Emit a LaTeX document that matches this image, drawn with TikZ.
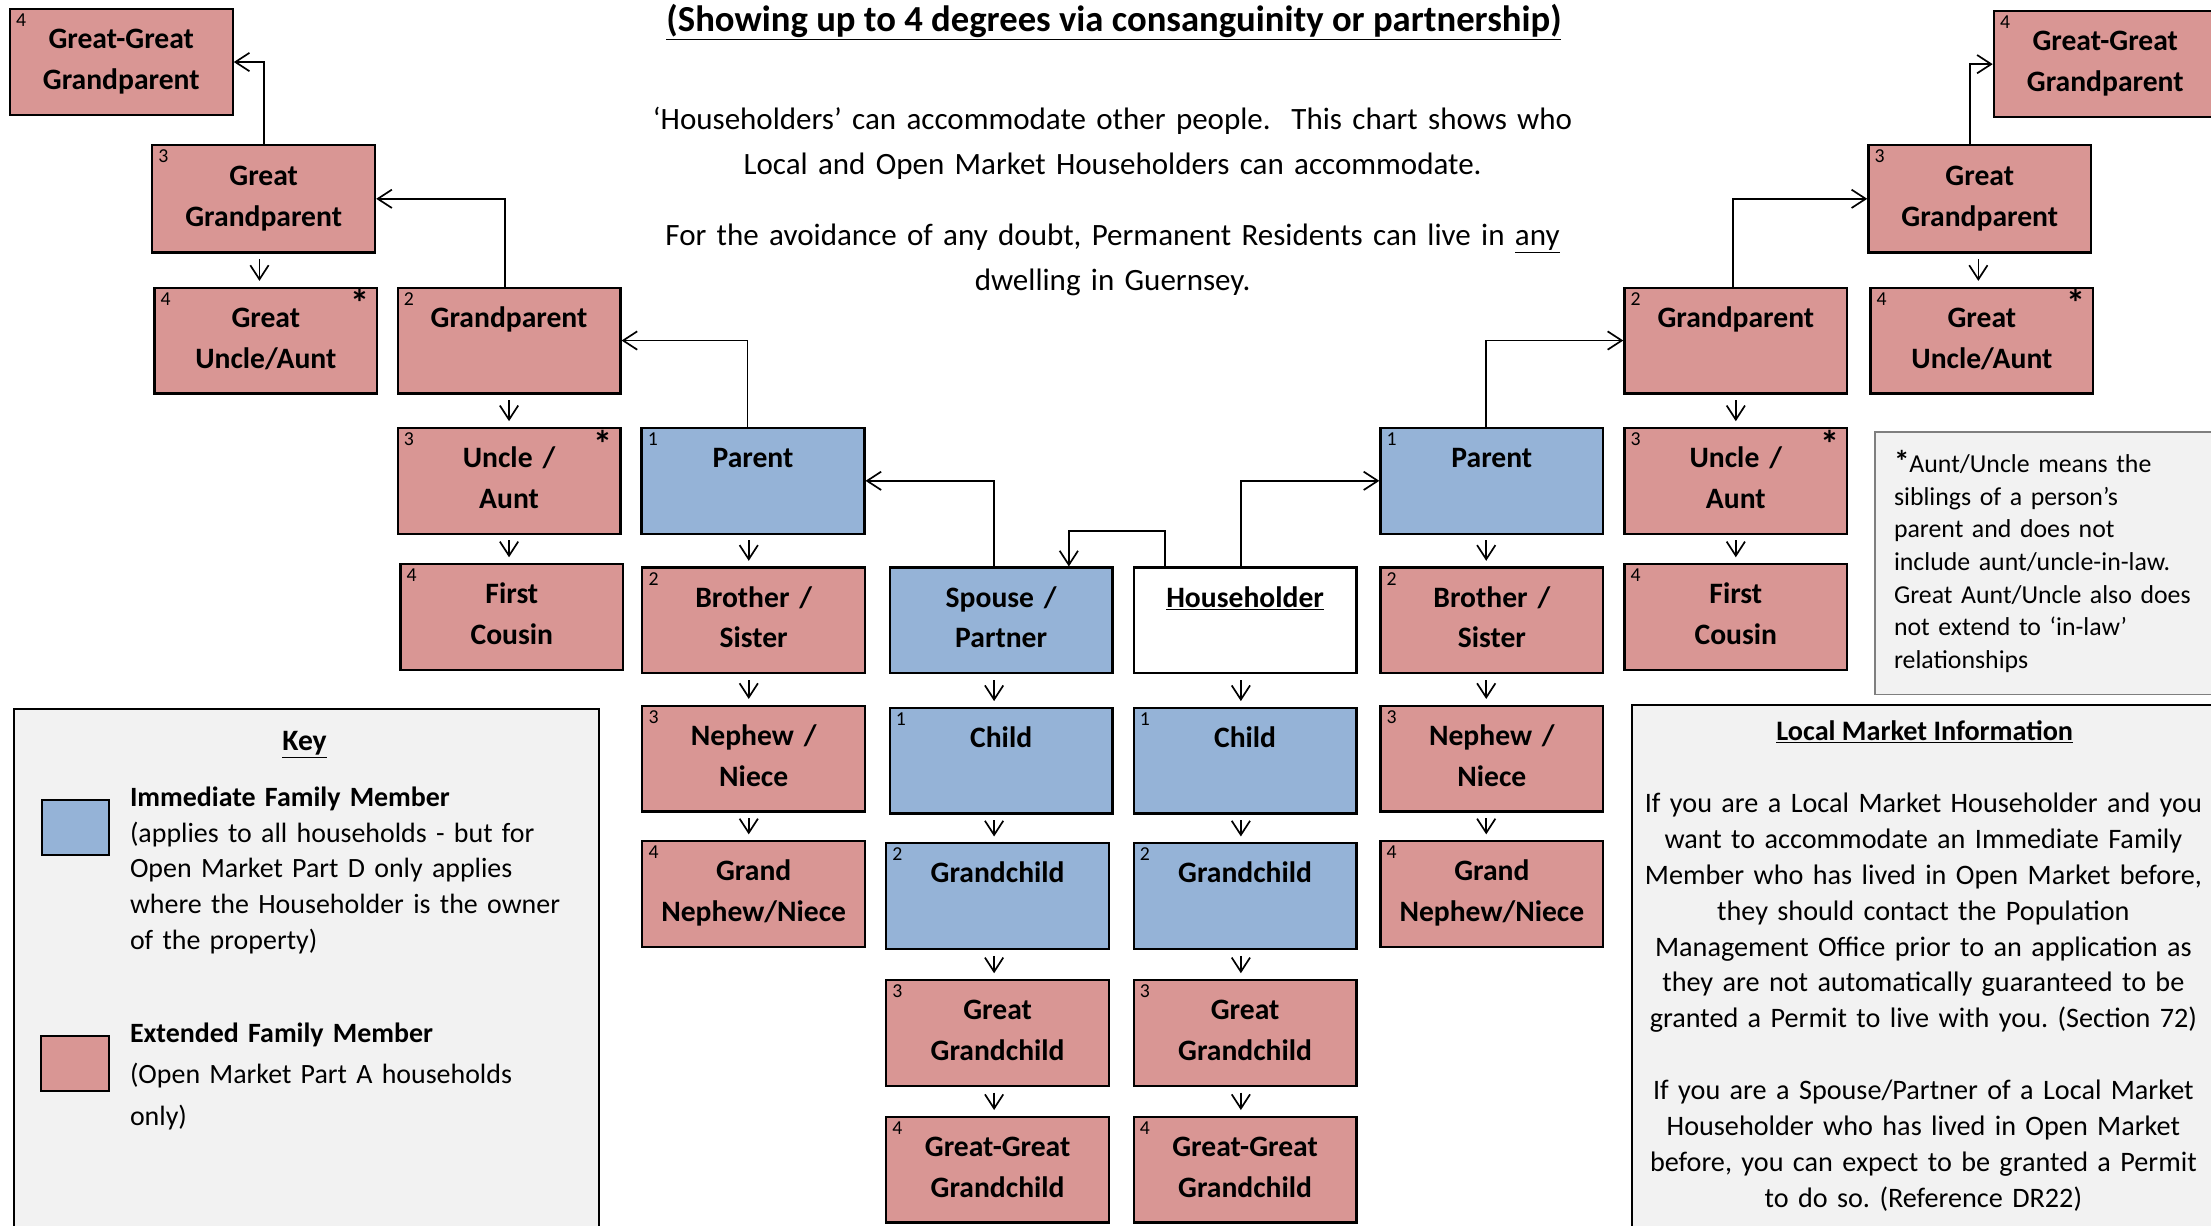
\documentclass[tikz,border=0pt]{standalone}
\usepackage{fontspec}
\setmainfont{Carlito}
\usetikzlibrary{arrows.meta}
\frenchspacing

\definecolor{extpink}{HTML}{D99694}
\definecolor{immblue}{HTML}{95B3D7}
\definecolor{panelgrey}{HTML}{F2F2F2}
\definecolor{notegrey}{HTML}{7F7F7F}

\tikzset{
  member/.style={rectangle, draw, line width=1.6pt, minimum width=158pt, minimum height=75pt,
    text width=154pt, align=center, inner sep=0pt, text height=15pt, text depth=34pt,
    font=\bfseries\fontsize{21}{29}\selectfont},
  ext/.style={member, fill=extpink},
  imm/.style={member, fill=immblue},
  deg/.style={anchor=north west, inner xsep=5pt, inner ysep=4pt, font=\fontsize{14}{14}\selectfont},
  star/.style={anchor=north east, inner xsep=6pt, inner ysep=2pt, font=\bfseries\fontsize{27}{27}\selectfont},
  link/.style={-{Straight Barb[length=10pt,width=13pt]}, line width=1.2pt},
  down/.style={link, shorten <=4pt, shorten >=4pt}
}

\begin{document}
\begin{tikzpicture}[x=1pt,y=-1pt]
  \useasboundingbox (0,0) rectangle (1568,869);

  % Heading
  \node[anchor=base, font=\bfseries\fontsize{26}{30}\selectfont] (title) at (790,22)
    {\underline{(Showing up to 4 degrees via consanguinity or partnership)}};
  \node[anchor=base, text width=760pt, align=center, font=\fontsize{22}{32}\selectfont] (intro) at (789,92)
    {‘Householders’ can accommodate other people.\ \ This chart shows who\\Local and Open Market Householders can accommodate.};
  \node[anchor=base, text width=760pt, align=center, font=\fontsize{22}{32}\selectfont] (avoid) at (789,174)
    {For the avoidance of any doubt, Permanent Residents can live in \underline{any}\\dwelling in Guernsey.};

  % Left side
  \node[ext, label={[deg]north west:4}] (ggpL) at (86,44) {Great-Great\\Grandparent};
  \node[ext, minimum height=76pt, label={[deg]north west:3}] (ggL) at (187,141) {Great\\Grandparent};
  \node[ext, label={[deg]north west:4}, label={[star]north east:*}] (guL) at (188.5,241.5) {Great\\Uncle/Aunt};
  \node[ext, label={[deg]north west:2}] (gpL) at (361,241.5) {Grandparent};
  \node[ext, label={[deg]north west:3}, label={[star]north east:*}] (uaL) at (361,341) {Uncle /\\Aunt};
  \node[ext, label={[deg]north west:4}] (fcL) at (363,437.5) {First\\Cousin};
  \node[imm, label={[deg]north west:1}] (parL) at (534,341) {Parent};
  \node[ext, label={[deg]north west:2}] (bsL) at (534.5,440) {Brother /\\Sister};
  \node[ext, label={[deg]north west:3}] (nnL) at (534.5,538) {Nephew /\\Niece};
  \node[ext, label={[deg]north west:4}] (gnL) at (534.5,634) {Grand\\Nephew/Niece};

  % Centre
  \node[imm] (sp) at (710,440) {Spouse /\\Partner};
  \node[member, fill=white] (hh) at (883,440) {\underline{Householder}};
  \node[imm, label={[deg]north west:1}] (chL) at (710,539.5) {Child};
  \node[imm, label={[deg]north west:2}] (gcL) at (707.5,635.5) {Grandchild};
  \node[ext, label={[deg]north west:3}] (ggcL) at (707.5,732.5) {Great\\Grandchild};
  \node[ext, label={[deg]north west:4}] (gggcL) at (707.5,829.5) {Great-Great\\Grandchild};
  \node[imm, label={[deg]north west:1}] (chR) at (883,539.5) {Child};
  \node[imm, label={[deg]north west:2}] (gcR) at (883,635.5) {Grandchild};
  \node[ext, label={[deg]north west:3}] (ggcR) at (883,732.5) {Great\\Grandchild};
  \node[ext, label={[deg]north west:4}] (gggcR) at (883,829.5) {Great-Great\\Grandchild};

  % Right side
  \node[imm, label={[deg]north west:1}] (parR) at (1058,341) {Parent};
  \node[ext, label={[deg]north west:2}] (bsR) at (1058,440) {Brother /\\Sister};
  \node[ext, label={[deg]north west:3}] (nnR) at (1058,538) {Nephew /\\Niece};
  \node[ext, label={[deg]north west:4}] (gnR) at (1058,634) {Grand\\Nephew/Niece};
  \node[ext, label={[deg]north west:2}] (gpR) at (1231,241.5) {Grandparent};
  \node[ext, label={[deg]north west:3}, label={[star]north east:*}] (uaR) at (1231,341) {Uncle /\\Aunt};
  \node[ext, label={[deg]north west:4}] (fcR) at (1231,437.5) {First\\Cousin};
  \node[ext, minimum height=76pt, label={[deg]north west:3}] (ggR) at (1404,141) {Great\\Grandparent};
  \node[ext, label={[deg]north west:4}, label={[star]north east:*}] (guR) at (1405.5,241.5) {Great\\Uncle/Aunt};
  \node[ext, label={[deg]north west:4}] (ggpR) at (1493,45.5) {Great-Great\\Grandparent};

  % Connectors, left
  \draw[link] (ggL.north) |- (ggpL.east);
  \draw[down] ([xshift=-3pt]ggL.south) -- ([xshift=-4.5pt]guL.north);
  \draw[link] ([xshift=-3pt]gpL.north) |- (ggL.east);
  \draw[down] (gpL) -- (uaL);
  \draw[down] (uaL.south) -- ([xshift=-2pt]fcL.north);
  \draw[link] ([xshift=-4pt]parL.north) |- (gpL.east);
  \draw[down] ([xshift=-3pt]parL.south) -- ([xshift=-3.5pt]bsL.north);
  \draw[down] ([xshift=-3.5pt]bsL.south) -- ([xshift=-3.5pt]nnL.north);
  \draw[down] ([xshift=-3.5pt]nnL.south) -- ([xshift=-3.5pt]gnL.north);

  % Connectors, centre
  \draw[link] ([xshift=-5pt]sp.north) |- (parL.east);
  \draw[link] ([xshift=-57pt]hh.north) -- ++(0,-25) -| ([xshift=48pt]sp.north);
  \draw[link] ([xshift=-3pt]hh.north) |- (parR.west);
  \draw[down] ([xshift=-5pt]sp.south) -- ([xshift=-5pt]chL.north);
  \draw[down] ([xshift=-5pt]chL.south) -- ([xshift=-2.5pt]gcL.north);
  \draw[down] ([xshift=-2.5pt]gcL.south) -- ([xshift=-2.5pt]ggcL.north);
  \draw[down] ([xshift=-2.5pt]ggcL.south) -- ([xshift=-2.5pt]gggcL.north);
  \draw[down] ([xshift=-3pt]hh.south) -- ([xshift=-3pt]chR.north);
  \draw[down] ([xshift=-3pt]chR.south) -- ([xshift=-3pt]gcR.north);
  \draw[down] ([xshift=-3pt]gcR.south) -- ([xshift=-3pt]ggcR.north);
  \draw[down] ([xshift=-3pt]ggcR.south) -- ([xshift=-3pt]gggcR.north);

  % Connectors, right
  \draw[link] ([xshift=-4pt]parR.north) |- (gpR.west);
  \draw[down] ([xshift=-4pt]parR.south) -- ([xshift=-4pt]bsR.north);
  \draw[down] ([xshift=-4pt]bsR.south) -- ([xshift=-4pt]nnR.north);
  \draw[down] ([xshift=-4pt]nnR.south) -- ([xshift=-4pt]gnR.north);
  \draw[link] ([xshift=-2pt]gpR.north) |- (ggR.west);
  \draw[down] (gpR) -- (uaR);
  \draw[down] (uaR) -- (fcR);
  \draw[down] ([xshift=-1pt]ggR.south) -- ([xshift=-2.5pt]guR.north);
  \draw[link] ([xshift=-7pt]ggR.north) |- (ggpR.west);

  % Note on aunts and uncles
  \node[draw=notegrey, line width=1.2pt, fill=panelgrey, anchor=north west, minimum width=250pt, minimum height=186pt] (noteBox) at (1329,306) {};
  \node[anchor=base west, inner sep=0pt, text width=236pt, align=left, font=\fontsize{18.3}{23.2}\selectfont] (noteText) at (1343,335)
    {{\bfseries\fontsize{22}{22}\selectfont*}Aunt/Uncle means the\\siblings of a person’s\\parent and does not\\include aunt/uncle-in-law.\\Great Aunt/Uncle also does\\not extend to ‘in-law’\\relationships};

  % Key
  \node[draw, line width=1.4pt, fill=panelgrey, anchor=north west, minimum width=415pt, minimum height=390pt] (keyBox) at (9,502) {};
  \node[anchor=base, font=\bfseries\fontsize{21}{24}\selectfont] (keyTitle) at (216,532) {\underline{Key}};
  \node[draw, line width=1.4pt, fill=immblue, minimum width=47pt, minimum height=39pt, inner sep=0pt] (keyImm) at (53.5,586.5) {};
  \node[anchor=base west, inner sep=0pt, text width=330pt, align=left, font=\fontsize{19.8}{25.3}\selectfont] (keyImmText) at (92,572)
    {\textbf{Immediate Family Member}\\(applies to all households - but for\\Open Market Part D only applies\\where the Householder is the owner\\of the property)};
  \node[draw, line width=1.4pt, fill=extpink, minimum width=48pt, minimum height=39pt, inner sep=0pt] (keyExt) at (53,754.5) {};
  \node[anchor=base west, inner sep=0pt, text width=330pt, align=left, font=\fontsize{19.8}{29.5}\selectfont] (keyExtText) at (92,739)
    {\textbf{Extended Family Member}\\(Open Market Part A households\\only)};

  % Local market panel
  \node[draw, line width=1.4pt, fill=panelgrey, anchor=north west, minimum width=420pt, minimum height=390pt] (lmBox) at (1157,499) {};
  \node[anchor=base, font=\bfseries\fontsize{20}{24}\selectfont] (lmTitle) at (1365,525) {\underline{Local Market Information}};
  \node[anchor=base, inner sep=0pt, text width=410pt, align=center, font=\fontsize{20}{25.5}\selectfont] (lmText) at (1364,576)
    {If you are a Local Market Householder and you\\want to accommodate an Immediate Family\\Member who has lived in Open Market before,\\they should contact the Population\\Management Office prior to an application as\\they are not automatically guaranteed to be\\granted a Permit to live with you. (Section 72)\\[25.5pt]If you are a Spouse/Partner of a Local Market\\Householder who has lived in Open Market\\before, you can expect to be granted a Permit\\to do so. (Reference DR22)};
\end{tikzpicture}
\end{document}
